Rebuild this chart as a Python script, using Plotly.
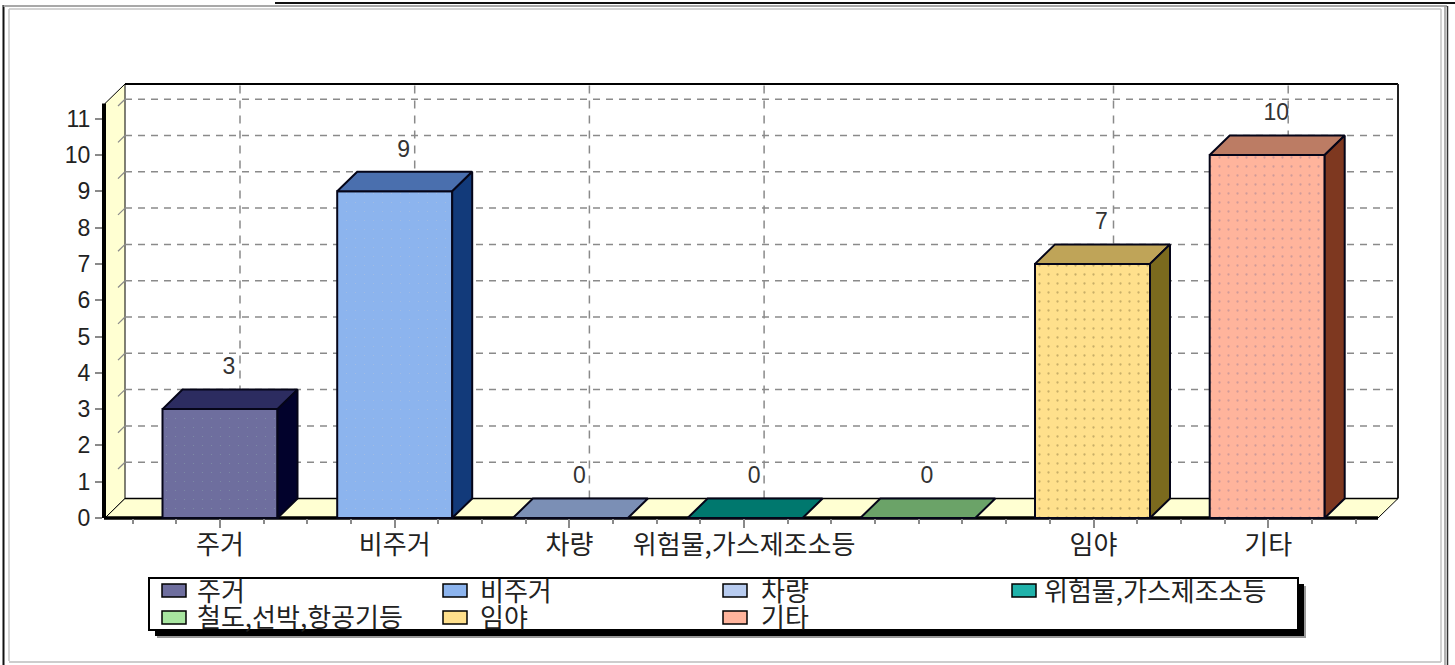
import plotly.graph_objects as go

# ---- data ----
categories = ["주거", "비주거", "차량", "위험물,가스제조소등", "철도,선박,항공기등", "임야", "기타"]
values = [3, 9, 0, 0, 0, 7, 10]
axis_labels = ["주거", "비주거", "차량", "위험물,가스제조소등", "", "임야", "기타"]
y_ticks = [0, 1, 2, 3, 4, 5, 6, 7, 8, 9, 10, 11]
front_colors = ["#6E6E9E", "#8CB4EE", "#B8CCF0", "#20B2AA", "#A8E6A0", "#FFE08C", "#FFB49C"]
top_colors = ["#2C2C60", "#4A6FAE", "#7B8FB5", "#00786E", "#6BA368", "#BFA458", "#BC7C64"]
side_colors = ["#02022C", "#123A7A", "#5A6C90", "#005A50", "#4C7C48", "#7B6A1E", "#7E3820"]
dot_colors = ["#7E8EA8", "#A4BEE4", "#B8CCF0", "#20B2AA", "#A8E6A0", "#C8AE68", "#D09A98"]
dot_solidity = [0.015, 0.015, 0.02, 0.02, 0.02, 0.05, 0.05]

# ---- layout constants (pixels of the 1455x665 page) ----
W, H = 1455, 665
X0_PX, X_UNIT = 220.0, 174.7
Y0_PX, Y_UNIT = 518.0, 36.3
DX_PX, DY_PX = 20.0, 19.5
BAR_PX = 115.0
BAR_NUDGE_PX = [0, 0, 1, 1, -1, -1, -1]


def xd(px):
    return (px - X0_PX) / X_UNIT


def yd(py):
    return (Y0_PX - py) / Y_UNIT


DX = DX_PX / X_UNIT
DY = DY_PX / Y_UNIT
HALF = BAR_PX / X_UNIT / 2
X_LEFT, X_RIGHT = xd(105), xd(1378)
Y_TOP = yd(103.5)
GRID = "#8A8A8A"
FONT_KR = "Noto Sans CJK KR, Gulim, sans-serif"
FONT_NUM = "Liberation Sans, Arial, sans-serif"

fig = go.Figure()
shapes = []


def poly_path(points):
    return "M" + " L".join(f"{x},{y}" for x, y in points) + " Z"


def data_line(x0, y0, x1, y1, color="black", width=1.0, dash="solid"):
    shapes.append(dict(type="line", xref="x", yref="y", x0=x0, y0=y0, x1=x1, y1=y1,
                       line=dict(color=color, width=width, dash=dash), layer="below"))


def page_rect(x0, y0, x1, y1, fill="rgba(0,0,0,0)", line="rgba(0,0,0,0)", width=0, layer="below"):
    shapes.append(dict(type="rect", xref="paper", yref="paper",
                       x0=x0 / W, x1=x1 / W, y0=1 - y0 / H, y1=1 - y1 / H,
                       fillcolor=fill, line=dict(color=line, width=width), layer=layer))


def page_line(x0, y0, x1, y1, color, width):
    shapes.append(dict(type="line", xref="paper", yref="paper",
                       x0=x0 / W, x1=x1 / W, y0=1 - y0 / H, y1=1 - y1 / H,
                       line=dict(color=color, width=width), layer="below"))


# page frame
page_line(275, 3, W, 3, "#111111", 2)
page_line(3.5, 5, 3.5, H, "#111111", 2)
page_line(3.5, 6, 1447, 6, "#A8A8A8", 2)
page_line(9, 9, 1441, 9, "#C4C4C4", 1.5)
page_line(9, 9, 9, 661, "#C4C4C4", 1.5)
page_line(9, 662, 1441, 662, "#BDBDBD", 1.5)
page_line(1441, 9, 1441, 662, "#C4C4C4", 1.5)
page_line(1445, 6, 1445, H, "#9A9A9A", 1.5)
page_line(1447.5, 6, 1447.5, H, "#333333", 1.5)

# walls and floor
shapes.append(dict(type="path", xref="x", yref="y", layer="below", fillcolor="#FFFFD2",
                   line=dict(color="black", width=1),
                   path=poly_path([(X_LEFT, 0), (X_LEFT + DX, DY), (X_LEFT + DX, Y_TOP + DY), (X_LEFT, Y_TOP)])))
shapes.append(dict(type="path", xref="x", yref="y", layer="below", fillcolor="#FFFFD2",
                   line=dict(color="black", width=1),
                   path=poly_path([(X_LEFT, 0), (X_LEFT + DX, DY), (X_RIGHT + DX, DY), (X_RIGHT, 0)])))

# grid on the back wall
for v in y_ticks[1:]:
    data_line(X_LEFT + DX, v + DY, X_RIGHT + DX, v + DY, GRID, 1.5, "7px,6px")
    data_line(X_LEFT + DX * 0.65, v + DY * 0.65, X_LEFT + DX, v + DY, GRID, 1.2)
for i, lab in enumerate(axis_labels):
    if lab:
        data_line(i + DX, DY, i + DX, Y_TOP + DY, GRID, 1.5, "8px,7px")

# back wall outline and axis lines
data_line(X_LEFT + DX, Y_TOP + DY, X_RIGHT + DX, Y_TOP + DY, "black", 2)
data_line(X_RIGHT + DX, DY, X_RIGHT + DX, Y_TOP + DY, "#222222", 2)
data_line(X_LEFT + DX, DY, X_RIGHT + DX, DY, "black", 1.5)
data_line(xd(104), yd(518), X_RIGHT, 0, "black", 3.5)
data_line(xd(104), 0, xd(104), Y_TOP, "black", 4)

# bars: front face through go.Bar, depth faces from the same values
for i, (name, v) in enumerate(zip(categories, values)):
    c = i + BAR_NUDGE_PX[i] / X_UNIT
    fig.add_trace(go.Bar(
        x=[c], y=[v], width=[2 * HALF], name=name, showlegend=False,
        marker=dict(color=front_colors[i], line=dict(color="#050518", width=2),
                    pattern=dict(shape=".", size=9, solidity=dot_solidity[i],
                                 fgcolor=dot_colors[i], bgcolor=front_colors[i], fillmode="replace")),
    ))
    l, r = c - HALF, c + HALF
    fig.add_trace(go.Scatter(
        x=[l, r, r + DX, l + DX, l], y=[v, v, v + DY, v + DY, v], mode="lines", fill="toself",
        fillcolor=top_colors[i], line=dict(color="#050518", width=2), showlegend=False, hoverinfo="skip"))
    if v > 0:
        fig.add_trace(go.Scatter(
            x=[r, r + DX, r + DX, r, r], y=[0, DY, v + DY, v, 0], mode="lines", fill="toself",
            fillcolor=side_colors[i], line=dict(color="#050518", width=2), showlegend=False, hoverinfo="skip"))
    fig.add_trace(go.Scatter(
        x=[c + 9 / X_UNIT], y=[v + DY + 21 / Y_UNIT], mode="text", text=[str(v)],
        textposition="middle center", textfont=dict(family=FONT_NUM, size=23, color="#333333"),
        showlegend=False, hoverinfo="skip"))

# legend box
LEG = (149, 578, 1298, 630)
page_rect(LEG[0] + 8, LEG[1] + 8, LEG[2] + 8, LEG[3] + 8, fill="#9A9A9A")
page_rect(LEG[0] + 6, LEG[1] + 6, LEG[2] + 6, LEG[3] + 6, fill="#000000")
page_rect(*LEG, fill="white", line="black", width=2)
leg_cols_sw = [162, 443, 723, 1012, 162, 443, 723]
leg_cols_tx = [195, 478, 759, 1042, 195, 478, 759]
leg_rows_sw = [590, 590, 590, 590, 617, 617, 617]
leg_rows_tx = [589, 589, 589, 589, 615, 615, 615]
annotations = []
for i, name in enumerate(categories):
    page_rect(leg_cols_sw[i], leg_rows_sw[i] - 6, leg_cols_sw[i] + 24, leg_rows_sw[i] + 7,
              fill=front_colors[i], line="black", width=1.5)
    annotations.append(dict(xref="paper", yref="paper", x=leg_cols_tx[i] / W, y=1 - leg_rows_tx[i] / H,
                            xanchor="left", yanchor="middle", text=name, showarrow=False,
                            font=dict(family=FONT_KR, size=26, color="#222222")))

major_ticks = [i for i, lab in enumerate(axis_labels) if lab]
minor_ticks = [k * 0.25 - 0.5 for k in range(29) if (k * 0.25 - 0.5) not in major_ticks]

fig.update_layout(
    width=W, height=H, margin=dict(l=0, r=0, t=0, b=0),
    paper_bgcolor="white", plot_bgcolor="white", barmode="overlay", showlegend=False,
    shapes=shapes, annotations=annotations,
    xaxis=dict(domain=[0, 1], range=[xd(0), xd(W)], anchor="free", position=(H - Y0_PX) / H,
               showgrid=False, zeroline=False, showline=False, ticks="outside", ticklen=9,
               tickcolor=GRID, tickwidth=1.5, tickmode="array",
               tickvals=major_ticks, ticktext=[axis_labels[i] for i in major_ticks],
               tickfont=dict(family=FONT_KR, size=26, color="#222222"), tickangle=0,
               ticklabelstandoff=-5,
               minor=dict(tickmode="array", tickvals=minor_ticks,
                          ticks="outside", ticklen=5, tickcolor=GRID, tickwidth=1.5)),
    yaxis=dict(domain=[0, 1], range=[yd(H), yd(0)], anchor="free", position=102 / W,
               showgrid=False, zeroline=False, showline=False, ticks="outside", ticklen=7,
               tickcolor=GRID, tickwidth=1.5, tickmode="array", tickvals=y_ticks,
               ticktext=[str(t) for t in y_ticks],
               tickfont=dict(family=FONT_NUM, size=23, color="#222222")),
)

fig.write_html("out.html", config={"displayModeBar": False},
               post_script="document.body.style.margin='0';document.body.style.overflow='hidden';")
